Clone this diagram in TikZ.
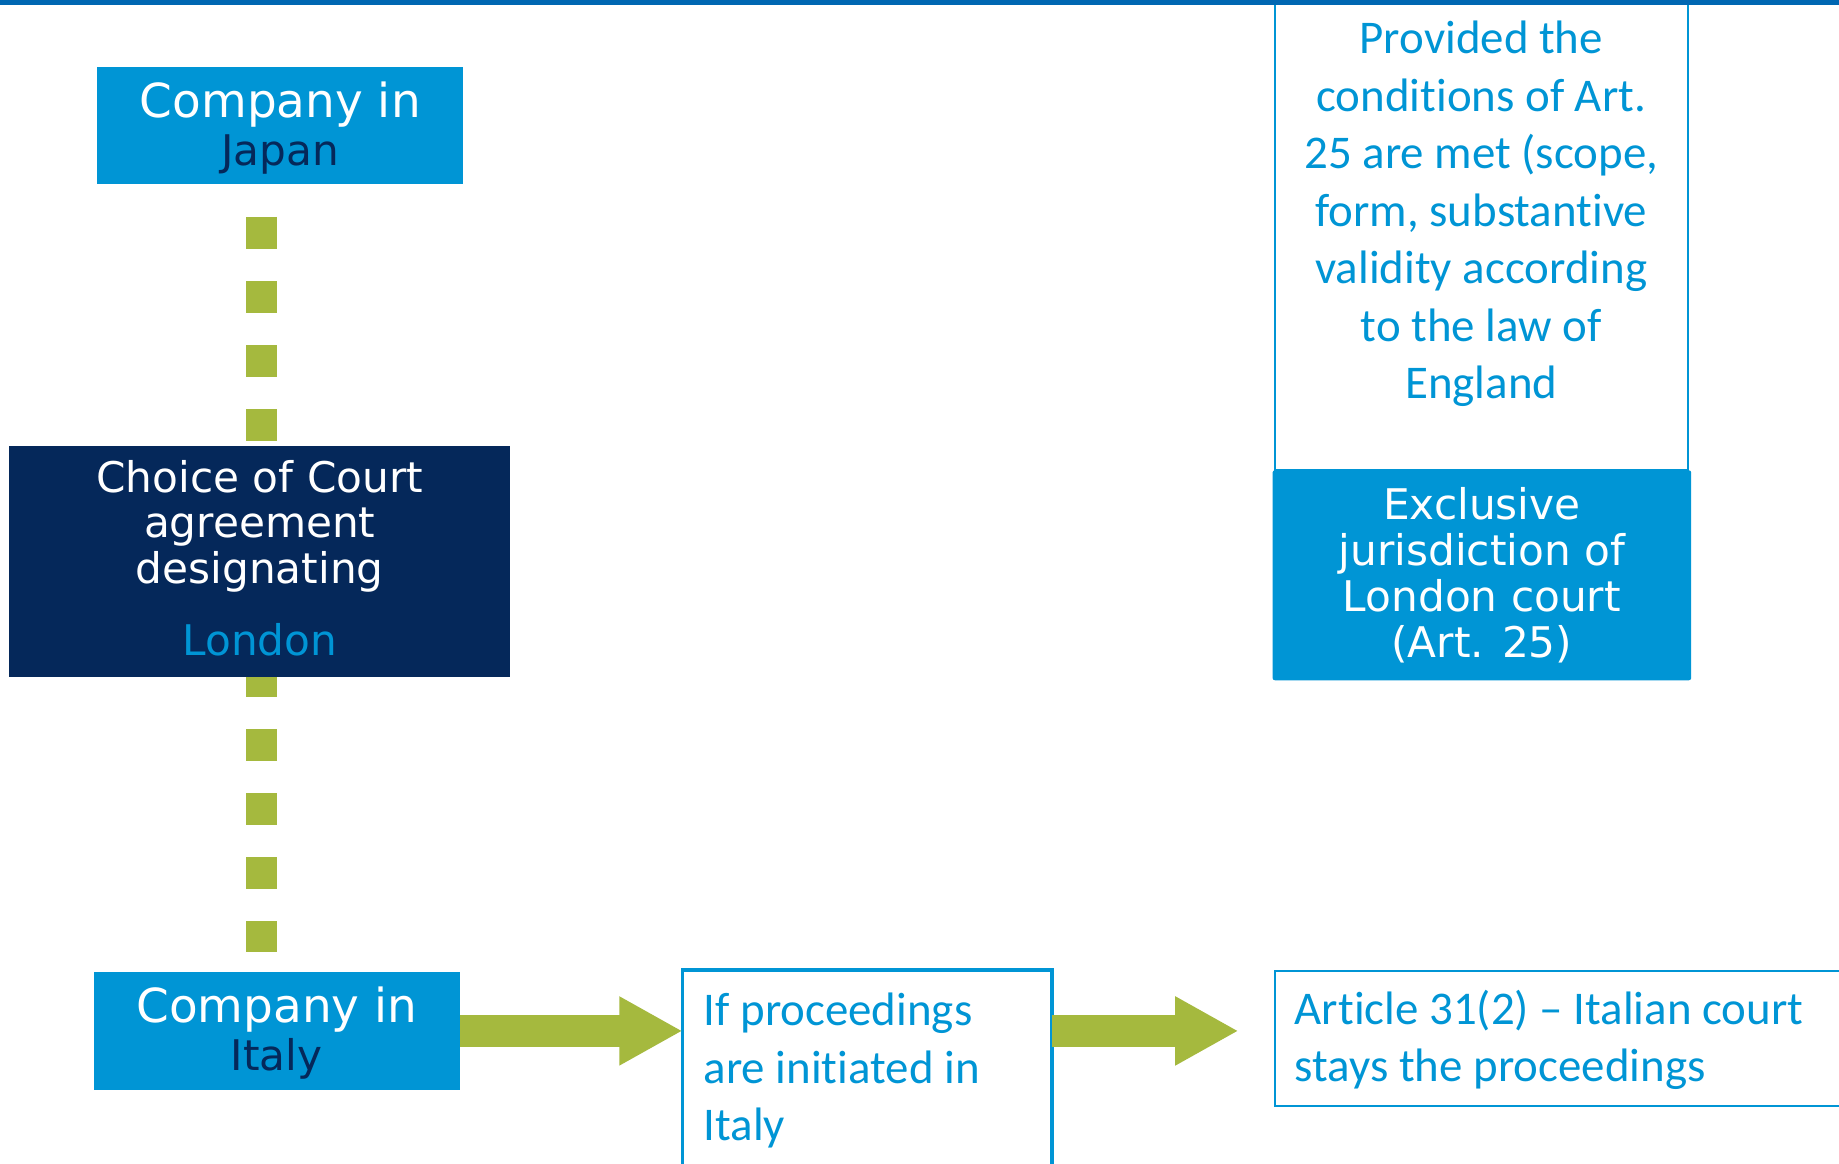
\documentclass[tikz,border=0pt]{standalone}
\usepackage{fontspec}
\setmainfont{DejaVu Sans}
\newfontfamily\calib[Ligatures=NoCommon]{Carlito}
\usetikzlibrary{arrows.meta,calc}
\definecolor{topbar}{HTML}{0067B2}
\definecolor{skyblue}{HTML}{0095D5}
\definecolor{navy}{HTML}{05285A}
\definecolor{olive}{HTML}{A5B93E}
\begin{document}
\begin{tikzpicture}[x=0.5pt,y=-0.5pt,
  solidbox/.style={fill=skyblue,draw=none,inner sep=0pt,outer sep=0pt,text=white,align=center},
  darkbox/.style={fill=navy,draw=none,inner sep=0pt,outer sep=0pt,text=white,align=center},
  linebox/.style={fill=white,draw=skyblue,inner sep=0pt,outer sep=0pt,text=skyblue},
  bigsans/.style={font=\fontsize{20}{18.5}\selectfont},
  sans/.style={font=\fontsize{18}{19.5}\selectfont},
  calibri/.style={font=\calib\fontsize{20}{24.5}\selectfont},
  fatarrow/.style={draw=olive,line width=13.5pt,-{Triangle[length=27pt,width=27.5pt]}},
  dashline/.style={draw=olive,line width=13.5pt,dash pattern=on 13.65pt off 13.65pt}
]
\clip (0,0) rectangle (1568,992);
\fill[white] (0,0) rectangle (1568,992);

% company boxes
\node[solidbox,bigsans,minimum width=156pt,minimum height=50pt] (japan) at (239,107)
  {Company in\\[2pt]{\fontsize{18}{18.5}\selectfont\color{navy}Japan}\\[-17.3pt]\mbox{}};
\node[solidbox,bigsans,minimum width=156pt,minimum height=50pt] (italy) at (236,879)
  {Company in\\[2pt]{\fontsize{18}{18.5}\selectfont\color{navy}Italy}\\[-16.3pt]\mbox{}};

% dotted link between the companies, behind the agreement box
\draw[dashline] ($(japan.south)+(-16,28)$) -- ($(italy.north)+(-13,-17)$);

% choice of court agreement
\node[darkbox,sans,minimum width=213.5pt,minimum height=98.5pt] (agree) at (221.5,478.5)
  {Choice of Court\\agreement\\designating\\[11pt]{\color{skyblue}London}\\[-16.5pt]\mbox{}};

% conditions and exclusive jurisdiction
\node[linebox,line width=1pt,minimum width=176pt,minimum height=200pt] (cond) at (1263,200.5) {};
\node[calibri,text=skyblue,align=center,inner sep=0pt] (condtext) at ($(cond.center)+(0,-18)$)
  {Provided the\\conditions of Art.\\25 are met (scope,\\form, substantive\\validity according\\to the law of\\England};
\node[solidbox,sans,rounded corners=1pt,minimum width=178.5pt,minimum height=89.5pt] (excl) at (1263.5,490.5)
  {Exclusive\\jurisdiction of\\London court\\(Art. 25)};

% proceedings in Italy and the stay
\node[linebox,calibri,line width=1.5pt,minimum width=157.5pt,minimum height=86pt,align=flush left,inner xsep=9pt,text width=139.5pt,anchor=north west] (proc) at (582,827)
  {If proceedings\\are initiated in\\Italy};
\node[linebox,calibri,line width=0.8pt,minimum width=245pt,minimum height=57.5pt,align=flush left,inner xsep=8.5pt,text width=228pt,anchor=north west] (stay) at (1087,828)
  {Article 31(2) – Italian court\\stays the proceedings\\[-22pt]\mbox{}};

\coordinate (staytip) at ($(stay.west |- italy.east)+(-31,0)$);
\draw[fatarrow] (italy.east) -- (italy.east -| proc.west);
\draw[fatarrow] (proc.east |- italy.east) -- (staytip);

% header rule
\fill[topbar] (0,0) rectangle (1568,4);
\end{tikzpicture}
\end{document}
